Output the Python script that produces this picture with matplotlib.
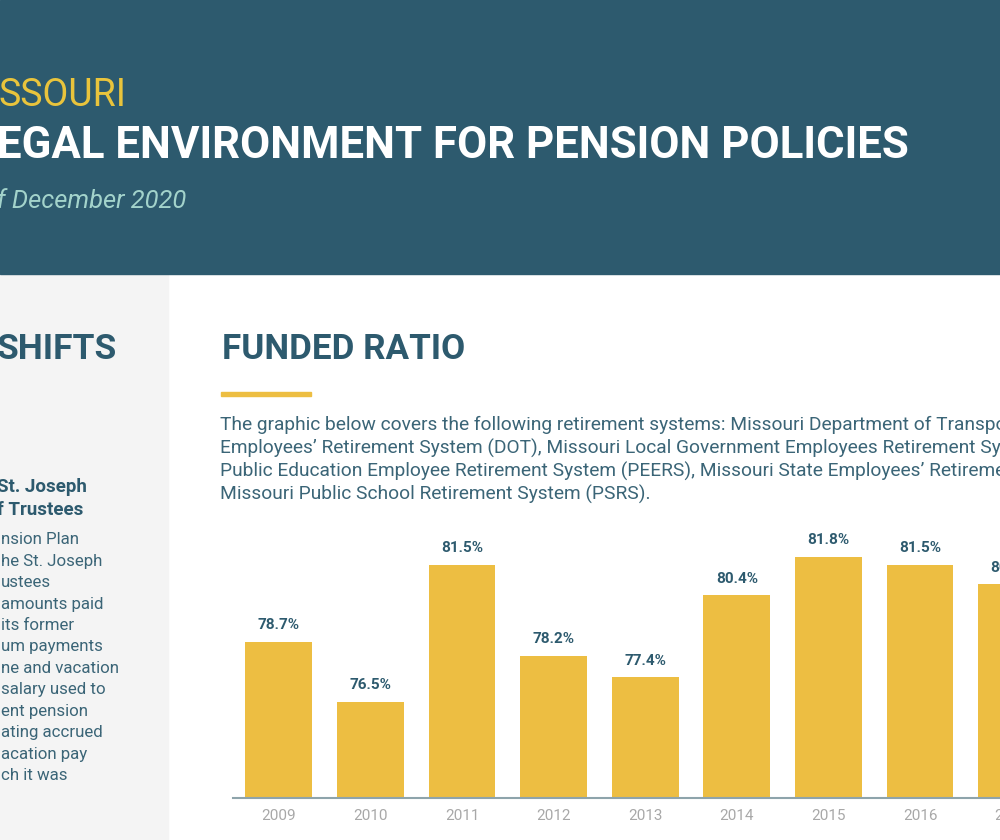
import matplotlib.pyplot as plt
from matplotlib.patches import Rectangle

years = ['2009', '2010', '2011', '2012', '2013', '2014', '2015', '2016', '2017']
funded = [78.7, 76.5, 81.5, 78.2, 77.4, 80.4, 81.8, 81.5, 80.8]
value_labels = ['78.7%', '76.5%', '81.5%', '78.2%', '77.4%', '80.4%', '81.8%', '81.5%', '80.8%']

intro_lines = [
    'The graphic below covers the following retirement systems: Missouri Department of Transportation and Highway Patrol',
    'Employees\u2019 Retirement System (DOT), Missouri Local Government Employees Retirement System (LAGERS), Missouri',
    'Public Education Employee Retirement System (PEERS), Missouri State Employees\u2019 Retirement System (MOSERS), and',
    'Missouri Public School Retirement System (PSRS).',
]
side_heads = ['St. Joseph', 'f Trustees']
side_lines = ['nsion Plan', 'he St. Joseph', 'ustees', 'amounts paid', 'its former',
              'um payments', 'ne and vacation', 'salary used to', 'ent pension',
              'ating accrued', 'acation pay', 'ch it was']

TEAL = '#2d5a6e'
YELLOW = '#edbe42'
W, H = 1000, 840

plt.rcParams['font.family'] = ['Roboto', 'DejaVu Sans']

fig = plt.figure(figsize=(10, 8.4), dpi=100)
fig.patch.set_facecolor('white')

def fy(y):
    return 1 - y / H

# header band and sidebar
fig.patches.append(Rectangle((0, fy(274)), 1, 274 / H, transform=fig.transFigure, color=TEAL, zorder=1))
fig.patches.append(Rectangle((0, 0), 168 / W, fy(270), transform=fig.transFigure, color='#f4f4f4', zorder=0))
fig.patches.append(Rectangle((221 / W, fy(396)), 90 / W, 4 / H, transform=fig.transFigure, color=YELLOW, zorder=1))

fig.text(-0.002, fy(96), 'SSOURI', color='#e9c43c', fontsize=27, va='center', ha='left')
fig.text(-0.003, fy(146), 'EGAL ENVIRONMENT FOR PENSION POLICIES', color='white', fontsize=31.5,
         fontweight='bold', va='center', ha='left')
fig.text(-0.003, fy(201), 'f December 2020', color='#a3d3cb', fontsize=18.4, style='italic',
         va='center', ha='left')

fig.text(-0.003, fy(349), 'SHIFTS', color=TEAL, fontsize=25.5, fontweight='bold', va='center', ha='left')
fig.text(222 / W, fy(349), 'FUNDED RATIO', color=TEAL, fontsize=25.2, fontweight='bold', va='center', ha='left')

for i, line in enumerate(intro_lines):
    fig.text(220 / W, fy(425 + i * 23), line, color='#3b6577', fontsize=13.8, va='center', ha='left')

for i, line in enumerate(side_heads):
    fig.text(-0.003, fy(487 + i * 23), line, color=TEAL, fontsize=13.5, fontweight='bold', va='center', ha='left')
for i, line in enumerate(side_lines):
    fig.text(0.001, fy(540 + i * 21.4), line, color='#3b6577', fontsize=12.2, va='center', ha='left')

# bar chart
unit = 91.6
ax = fig.add_axes([233 / W, 42 / H, 9 * unit / W, 11 * 27.4 / H])
ax.patch.set_visible(False)
x = list(range(len(years)))
ax.bar(x, funded, width=0.73, color=YELLOW, zorder=2)
for xi, v, lab in zip(x, funded, value_labels):
    ax.annotate(lab, (xi, v), xytext=(0, 12), textcoords='offset points', ha='center', va='center',
                color=TEAL, fontsize=11, fontweight='bold')
ax.set_xlim(-0.5, 8.5)
ax.set_ylim(73, 84)
ax.set_xticks(x)
ax.set_xticklabels(years, color='#a8a8a8', fontsize=11)
ax.tick_params(axis='x', length=0, pad=8)
ax.set_yticks([])
for s in ['top', 'right', 'left']:
    ax.spines[s].set_visible(False)
ax.spines['bottom'].set_color('#8ea4ab')
ax.spines['bottom'].set_linewidth(1.5)
ax.spines['bottom'].set_zorder(3)

fig.savefig('out.png', dpi=100)
